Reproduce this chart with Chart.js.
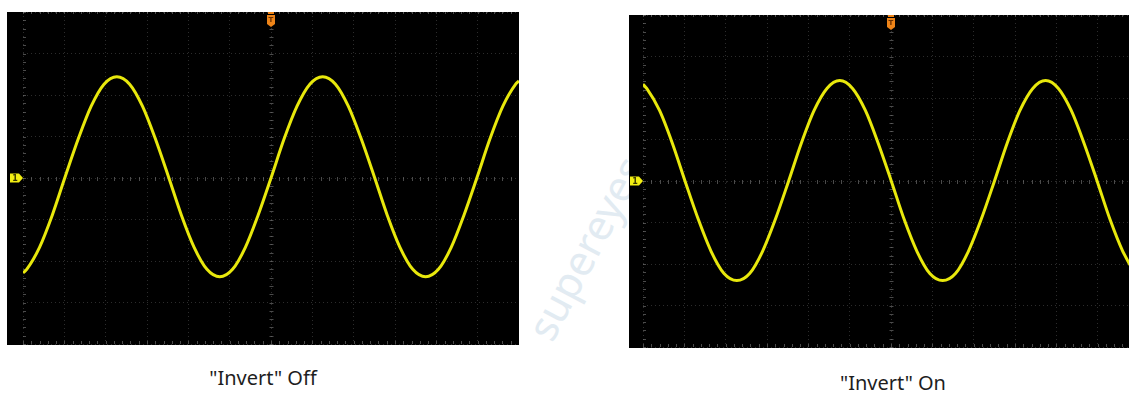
<!DOCTYPE html>
<html>
<head>
<meta charset="utf-8">
<script src="https://cdn.jsdelivr.net/npm/chart.js@4.4.1/dist/chart.umd.min.js"></script>
<style>
  html, body { margin: 0; padding: 0; background: #fff; }
  body { width: 1129px; height: 394px; overflow: hidden; position: relative; font-family: "Noto Sans", "Open Sans", sans-serif; }
  .scope { position: absolute; background: #000; }
  .cap { position: absolute; font-size: 20px; color: #1e1e1e; transform: translateX(-50%); white-space: nowrap; }
  .wm { position: absolute; left: 470px; top: 195px; font-size: 42px; color: #e2ebf2; transform: rotate(-62deg); transform-origin: center; white-space: nowrap; }
</style>
</head>
<body>
<div class="wm">supereyes.ru</div>
<div class="scope" style="left:7px;top:12px;width:512px;height:333px"><canvas id="offChart"></canvas></div>
<div class="scope" style="left:629px;top:15px;width:510px;height:333px"><canvas id="onChart"></canvas></div>
<div class="cap" style="left:263px;top:364px">"Invert" Off</div>
<div class="cap" style="left:893px;top:369px">"Invert" On</div>

<script>
// time in divisions (12 across), volts in divisions (8 high, 0 = centre)
const timeDiv = [0, 0.09, 0.40, 0.71, 1.02, 1.34, 1.65, 1.96, 2.27, 2.58, 2.89, 3.20, 3.52, 3.83, 4.14, 4.45,
  4.76, 5.07, 5.38, 5.69, 6.01, 6.32, 6.63, 6.94, 7.25, 7.56, 7.87, 8.18, 8.50, 8.81, 9.12, 9.43,
  9.74, 10.05, 10.36, 10.67, 10.99, 11.30, 11.61, 11.92, 12];
const invertOff = [-2.29, -2.20, -1.67, -0.89, 0.03, 0.95, 1.73, 2.26, 2.44, 2.26, 1.73, 0.95, 0.03, -0.89, -1.67, -2.20,
  -2.38, -2.20, -1.67, -0.89, 0.03, 0.95, 1.73, 2.26, 2.44, 2.26, 1.73, 0.95, 0.03, -0.89, -1.67, -2.20,
  -2.38, -2.20, -1.67, -0.89, 0.03, 0.95, 1.73, 2.26, 2.34];
const invertOn = [2.33, 2.23, 1.70, 0.91, -0.01, -0.93, -1.70, -2.23, -2.40, -2.23, -1.70, -0.93, -0.01, 0.91, 1.70, 2.23,
  2.42, 2.23, 1.70, 0.91, -0.01, -0.93, -1.70, -2.23, -2.40, -2.23, -1.70, -0.93, -0.01, 0.91, 1.70, 2.23,
  2.42, 2.23, 1.70, 0.91, -0.01, -0.93, -1.70, -2.23, -2.32];
const trigDiv = 6;

const gridCol = "rgba(105,105,105,0.42)";
const traceCol = "#e8e80c";

// minor ticks on the centre lines and the channel / trigger markers
const scopeMarks = {
  id: "scopeMarks",
  beforeDatasetsDraw(chart) {
    const { ctx, chartArea: a, scales: { x, y } } = chart;
    const cx = x.getPixelForValue(trigDiv), cy = Math.round(y.getPixelForValue(0)) + 0.5;
    ctx.save();
    ctx.strokeStyle = "rgba(125,125,125,0.6)";
    ctx.lineWidth = 1;
    ctx.beginPath();
    for (let i = 0; i <= 60; i++) {
      const px = Math.round(x.getPixelForValue(i / 5)) + 0.5;
      const l = i % 5 === 0 ? 0 : 1.5;
      ctx.moveTo(px, cy - l); ctx.lineTo(px, cy + l + 1);
      ctx.moveTo(px, a.bottom - 3); ctx.lineTo(px, a.bottom);
      ctx.moveTo(px, a.top); ctx.lineTo(px, a.top + 2);
    }
    const vx = Math.round(cx) + 0.5;
    for (let i = 0; i <= 40; i++) {
      const py = Math.round(y.getPixelForValue(-4 + i / 5)) + 0.5;
      ctx.moveTo(vx - 2, py); ctx.lineTo(vx + 2, py);
      ctx.moveTo(a.left, py); ctx.lineTo(a.left + 3, py);
    }
    ctx.stroke();
    ctx.restore();
  },
  afterDraw(chart) {
    const { ctx, chartArea: a, scales: { x, y } } = chart;
    const cy = y.getPixelForValue(0);
    ctx.save();
    // channel 1 marker
    ctx.fillStyle = "#f2ee12";
    ctx.beginPath();
    ctx.moveTo(a.left - 13, cy - 4.5);
    ctx.lineTo(a.left - 4, cy - 4.5);
    ctx.lineTo(a.left, cy);
    ctx.lineTo(a.left - 4, cy + 4.5);
    ctx.lineTo(a.left - 13, cy + 4.5);
    ctx.closePath();
    ctx.fill();
    ctx.fillStyle = "#3a3a00";
    ctx.font = "bold 8px 'DejaVu Sans'";
    ctx.textAlign = "center";
    ctx.textBaseline = "middle";
    ctx.fillText("1", a.left - 8, cy + 0.5);
    // trigger position marker
    const tx = x.getPixelForValue(trigDiv);
    ctx.fillStyle = "#ee8418";
    ctx.beginPath();
    ctx.moveTo(tx - 4, a.top + 3);
    ctx.lineTo(tx + 4, a.top + 3);
    ctx.lineTo(tx + 4, a.top + 12);
    ctx.lineTo(tx, a.top + 15);
    ctx.lineTo(tx - 4, a.top + 12);
    ctx.closePath();
    ctx.fill();
    ctx.fillRect(tx - 3, a.top, 6, 2);
    ctx.fillStyle = "#6a3000";
    ctx.font = "bold 7px 'DejaVu Sans'";
    ctx.fillText("T", tx, a.top + 8);
    ctx.restore();
  }
};

function scopeChart(id, values, padLeft) {
  const pts = timeDiv.map((t, i) => ({ x: t, y: values[i] }));
  const axis = (min, max) => ({
    type: "linear", min: min, max: max,
    ticks: { display: false, stepSize: 1, maxTicksLimit: 20 },
    grid: { color: gridCol, drawTicks: false, lineWidth: 1 },
    border: { display: false, dash: [1, 3] }
  });
  return new Chart(document.getElementById(id), {
    type: "line",
    data: {
      datasets: [{
        data: pts,
        borderColor: traceCol,
        borderWidth: 3,
        pointRadius: 0,
        cubicInterpolationMode: "monotone",
        fill: false
      }]
    },
    options: {
      animation: false,
      responsive: true,
      maintainAspectRatio: false,
      layout: { padding: { left: padLeft, right: 0, top: 0, bottom: 1 } },
      plugins: { legend: { display: false }, tooltip: { enabled: false } },
      scales: { x: axis(0, 12), y: axis(-4, 4) }
    },
    plugins: [scopeMarks]
  });
}

scopeChart("offChart", invertOff, 16);
scopeChart("onChart", invertOn, 14);
</script>
</body>
</html>
